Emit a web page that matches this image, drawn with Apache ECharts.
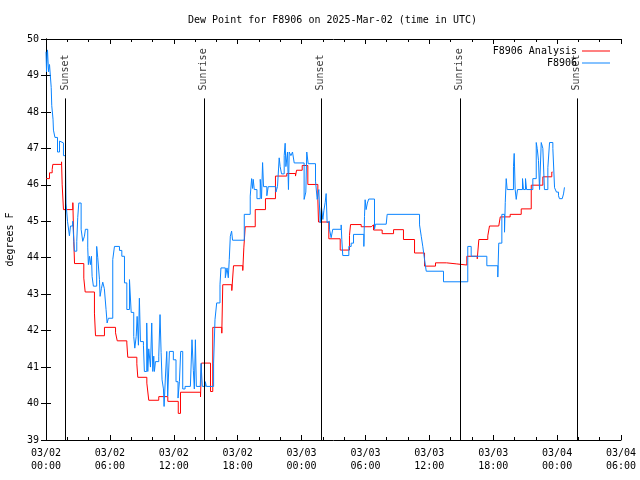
<!DOCTYPE html>
<html>
<head>
<meta charset="utf-8">
<script src="https://cdn.jsdelivr.net/npm/echarts@6/dist/echarts.min.js"></script>
<style>html,body{margin:0;padding:0;background:#fff}#c{width:640px;height:480px}</style>
</head>
<body>
<div id="c"></div>
<script>
// hours since 2025-03-02 00:00 UTC
const analysisHours = [0.02,0.33,0.58,0.64,1.46,1.52,1.64,2.52,2.61,2.68,3.55,3.68,4.55,4.65,5.49,6.53,6.69,7.59,7.68,8.53,8.62,9.47,9.65,10.59,11.44,12.42,12.63,14.51,14.60,15.45,15.66,16.51,16.60,17.45,17.61,18.48,18.58,18.71,19.65,20.61,21.55,22.61,23.43,23.53,24.06,24.59,25.53,25.59,26.56,27.63,28.50,28.60,29.60,30.54,30.76,31.57,32.64,33.57,34.61,35.55,36.58,37.61,38.58,39.52,40.50,40.65,41.49,41.65,42.52,42.66,43.59,44.63,45.57,46.66,47.50,47.57];
const analysisValues = [46.17,46.33,46.42,46.56,46.63,46.0,45.32,45.51,44.45,43.84,43.44,43.06,42.48,41.86,42.09,41.94,41.72,41.66,41.27,41.09,40.72,40.56,40.09,40.19,40.06,39.73,40.31,40.18,41.11,40.33,42.09,41.93,43.26,43.1,43.78,43.65,44.27,44.85,45.32,45.62,46.24,46.31,46.24,46.4,46.53,46.01,45.6,44.98,44.52,44.21,44.61,44.91,44.85,44.9,44.76,44.66,44.77,44.5,44.13,43.77,43.86,43.83,43.80,44.04,43.97,44.5,44.6,44.87,44.85,45.12,45.19,45.34,45.99,46.22,46.35,46.35];

const obsHours = [0.00,0.05,0.14,0.24,0.33,0.49,0.54,0.66,0.70,0.84,1.08,1.27,1.45,1.64,1.83,1.88,2.02,2.20,2.30,2.51,2.67,2.89,2.98,3.08,3.30,3.45,3.61,3.70,3.92,3.98,4.08,4.17,4.27,4.33,4.45,4.76,4.86,5.02,5.08,5.20,5.33,5.48,5.64,5.74,5.86,6.27,6.43,6.90,7.12,7.37,7.59,7.84,8.00,8.24,8.34,8.47,8.56,8.68,8.77,8.87,9.15,9.24,9.46,9.56,9.65,9.81,9.93,10.03,10.12,10.18,10.28,10.59,10.71,10.81,10.90,11.03,11.09,11.21,11.34,11.43,11.59,11.96,12.21,12.40,12.53,12.65,12.84,13.06,13.56,13.71,13.84,13.93,14.03,14.12,14.49,14.56,14.68,14.96,15.06,15.74,15.87,16.03,16.34,16.43,16.84,17.00,17.12,17.21,17.31,17.43,17.52,18.62,19.18,19.31,19.40,19.46,19.56,19.81,20.12,20.24,20.34,20.43,20.74,20.87,21.59,21.74,21.90,21.99,22.12,22.37,22.46,22.53,22.68,22.77,22.84,23.00,23.15,23.31,24.24,24.40,24.49,24.62,25.31,25.47,25.62,25.75,25.87,26.00,26.10,26.22,26.31,26.40,26.50,26.62,26.78,26.93,27.72,27.78,27.87,28.44,28.66,28.88,29.85,29.91,29.97,30.06,30.18,30.31,30.85,30.94,31.95,32.04,35.08,35.24,35.39,35.55,35.71,37.33,39.61,39.93,41.40,42.43,42.52,42.81,43.06,43.13,43.22,43.31,43.90,43.97,44.06,44.16,44.28,44.75,44.84,45.03,45.13,45.72,46.04,46.13,46.25,46.35,46.51,46.66,46.81,47.13,47.29,47.60,47.76,47.94,48.13,48.22,48.48,48.60,48.69];
const obsValues = [49.65,49.1,49.7,49.1,49.3,48.67,48.17,47.8,47.5,47.3,46.9,47.2,47.15,46.8,46.6,45.5,45.0,44.6,44.87,45.0,44.18,44.45,45.1,45.5,44.78,44.45,44.59,44.78,44.27,43.81,44.04,43.81,44.04,43.49,43.22,44.31,44.0,43.4,42.94,43.15,43.33,43.15,42.58,42.21,42.34,43.95,44.31,44.2,44.04,43.31,42.58,43.4,42.5,41.84,41.52,41.84,42.39,41.6,42.89,41.7,41.6,40.88,42.21,40.88,41.5,41.0,42.21,40.88,41.3,40.88,41.15,41.3,42.44,41.4,40.65,40.4,39.92,40.7,41.43,40.2,41.43,41.2,40.6,40.15,40.6,41.43,40.4,40.47,40.47,41.75,40.9,40.4,41.75,40.47,40.5,41.1,40.47,40.6,40.47,41.11,42.3,42.76,43.26,43.72,43.45,43.72,43.45,43.95,44.59,44.73,44.48,45.19,45.69,46.17,45.9,46.15,45.87,45.62,46.15,45.62,46.61,45.95,45.7,45.95,45.8,45.95,46.74,46.5,46.3,46.8,47.14,46.5,46.9,45.87,46.9,46.8,46.9,46.6,45.6,45.8,46.9,46.58,46.1,45.6,45.87,44.96,45.38,45.05,45.3,45.52,45.76,44.96,45.0,44.78,44.55,44.78,44.9,44.5,44.06,44.31,44.4,44.64,44.31,45.13,45.59,45.32,45.5,45.61,44.78,44.92,44.94,45.19,44.9,44.59,44.3,43.95,43.63,43.34,44.31,44.04,43.78,43.47,44.4,45.19,44.7,45.51,46.17,45.87,46.5,46.86,45.87,45.6,45.87,46.17,45.87,46.17,45.87,46.17,47.16,47.0,46.67,45.87,47.16,47.0,45.87,46.47,47.16,47.0,45.92,45.8,45.7,45.62,45.62,45.75,45.93];

const sunHours = [1.80, 14.82, 25.81, 38.86, 49.85];
const sunLabels = ['Sunset', 'Sunrise', 'Sunset', 'Sunrise', 'Sunset'];

const yTicks = {min: 39, max: 50, step: 1};
const xTicks = {min: 0, max: 54, step: 6};

const FONT = 'DejaVu Sans Mono';
const zip = (a, b) => a.map((v, i) => [v, b[i]]);

function xLabel(v) {
  const day = Math.floor(v / 24) + 2;
  const hh = v % 24;
  return '03/0' + day + '\n' + (hh < 10 ? '0' : '') + hh + ':00';
}

const chart = echarts.init(document.getElementById('c'), null, {renderer: 'canvas'});
const axisCommon = {
  axisLine: {show: true, lineStyle: {color: '#000', width: 1}},
  splitLine: {show: false}
};
chart.setOption({
  animation: false,
  backgroundColor: '#fff',
  title: {
    text: 'Dew Point for F8906 on 2025-Mar-02 (time in UTC)',
    left: 188, top: 15, padding: 0,
    textStyle: {fontFamily: FONT, fontSize: 10, fontWeight: 'normal', color: '#000'}
  },
  legend: [
    {data: ['F8906 Analysis'], right: 30, top: 46, padding: 0, align: 'right', icon: 'rect',
     itemWidth: 28, itemHeight: 1, selectedMode: false,
     textStyle: {fontFamily: FONT, fontSize: 10, color: '#000'}},
    {data: ['F8906'], right: 30, top: 58, padding: 0, align: 'right', icon: 'rect',
     itemWidth: 28, itemHeight: 1, selectedMode: false,
     textStyle: {fontFamily: FONT, fontSize: 10, color: '#000'}}
  ],
  grid: {left: 46, right: 19, top: 39, bottom: 40, containLabel: false, outerBoundsMode: 'none'},
  xAxis: [
    Object.assign({}, axisCommon, {
      type: 'value', min: xTicks.min, max: xTicks.max, interval: xTicks.step, position: 'bottom',
      axisTick: {show: true, inside: true, length: 5, lineStyle: {color: '#000'}},
      minorTick: {show: true, splitNumber: 3, length: 3, lineStyle: {color: '#000'}},
      axisLabel: {show: true, formatter: xLabel, fontFamily: FONT, fontSize: 10, color: '#000', lineHeight: 13, margin: 7}
    }),
    Object.assign({}, axisCommon, {
      type: 'value', min: xTicks.min, max: xTicks.max, interval: xTicks.step, position: 'top',
      axisTick: {show: true, inside: true, length: 5, lineStyle: {color: '#000'}},
      minorTick: {show: true, splitNumber: 3, length: 3, lineStyle: {color: '#000'}},
      axisLabel: {show: false}
    })
  ],
  yAxis: [
    Object.assign({}, axisCommon, {
      type: 'value', min: yTicks.min, max: yTicks.max, interval: yTicks.step, position: 'left',
      axisTick: {show: true, inside: true, length: 5, lineStyle: {color: '#000'}},
      axisLabel: {fontFamily: FONT, fontSize: 10, color: '#000', margin: 7},
      name: 'degrees F', nameLocation: 'middle', nameGap: 31,
      nameTextStyle: {fontFamily: FONT, fontSize: 10, color: '#000'}
    }),
    Object.assign({}, axisCommon, {
      type: 'value', min: yTicks.min, max: yTicks.max, interval: yTicks.step, position: 'right',
      axisTick: {show: true, inside: true, length: 5, lineStyle: {color: '#000'}},
      axisLabel: {show: false}
    })
  ],
  series: [
    {
      name: 'F8906 Analysis', type: 'line', step: 'end', showSymbol: false, symbol: 'none',
      data: zip(analysisHours, analysisValues),
      lineStyle: {color: '#ff0000', width: 1}, itemStyle: {color: '#ff0000'}, z: 3
    },
    {
      name: 'F8906', type: 'line', step: 'end', showSymbol: false, symbol: 'none',
      data: zip(obsHours, obsValues),
      lineStyle: {color: '#0a84ff', width: 1}, itemStyle: {color: '#0a84ff'}, z: 4
    },
    {
      name: 'sunLines', type: 'line', data: [], silent: true,
      markLine: {
        silent: true, symbol: ['none', 'none'], animation: false,
        lineStyle: {color: '#000', width: 1, type: 'solid'},
        label: {show: false},
        data: sunHours.map(t => [{coord: [t, yTicks.min]}, {coord: [t, 48.37]}])
      }
    },
    {
      name: 'sunLabels', type: 'scatter', symbolSize: 0, silent: true,
      data: sunHours.map((t, i) => ({value: [t, 48.56], name: sunLabels[i]})),
      label: {
        show: true, formatter: p => p.name, position: 'inside', rotate: 90,
        align: 'left', verticalAlign: 'middle', offset: [1, 0],
        fontFamily: FONT, fontSize: 10, color: '#000'
      }
    }
  ]
});
</script>
</body>
</html>
